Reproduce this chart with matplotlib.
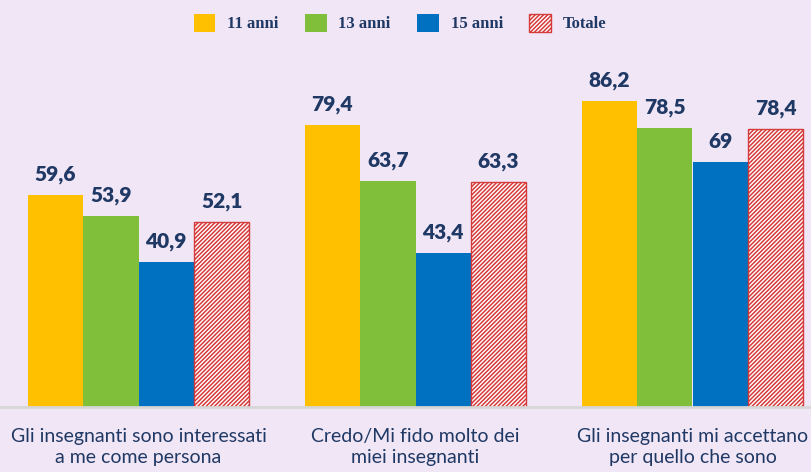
import matplotlib.pyplot as plt
import numpy as np

categories = ["Gli insegnanti sono interessati\na me come persona",
              "Credo/Mi fido molto dei\nmiei insegnanti",
              "Gli insegnanti mi accettano\nper quello che sono"]
series = ["11 anni", "13 anni", "15 anni", "Totale"]
values = [[59.6, 79.4, 86.2],
          [53.9, 63.7, 78.5],
          [40.9, 43.4, 69],
          [52.1, 63.3, 78.4]]
labels = [["59,6", "79,4", "86,2"],
          ["53,9", "63,7", "78,5"],
          ["40,9", "43,4", "69"],
          ["52,1", "63,3", "78,4"]]

colors = ["#FFC000", "#80BF3A", "#0070C0", "white"]
navy = "#1F3864"
bg = "#F0E6F6"

plt.rcParams['hatch.linewidth'] = 1.1

fig = plt.figure(figsize=(8.11, 4.72), dpi=100)
fig.patch.set_facecolor(bg)
W, H = 811, 472
ax = fig.add_axes([0, (H - 407) / H, 831 / W, 355 / H])
ax.set_facecolor(bg)

x = np.arange(len(categories))
w = 0.2
handles = []
for i, s in enumerate(series):
    pos = x + (i - 1.5) * w
    if s == "Totale":
        b = ax.bar(pos, values[i], w, color="white", edgecolor="#D63A3A",
                   hatch="////////", linewidth=1.0, label=s)
    else:
        b = ax.bar(pos, values[i], w, color=colors[i], label=s)
    handles.append(b)
    for p, v, t in zip(pos, values[i], labels[i]):
        ax.annotate(t, (p, v), xytext=(0, 8), textcoords="offset points",
                    ha="center", va="bottom", fontsize=15, fontweight="heavy",
                    color=navy, family="Lato")

ax.set_xlim(-0.5, 2.5)
ax.set_ylim(0, 100)
for sp in ["top", "right", "left"]:
    ax.spines[sp].set_visible(False)
ax.spines["bottom"].set_color("#D6D6D6")
ax.spines["bottom"].set_linewidth(2)
ax.set_yticks([])
ax.set_xticks(x)
ax.set_xticklabels(categories, fontsize=14, color=navy, family="Lato",
                   linespacing=1.3)
ax.tick_params(axis="x", length=0, pad=15)

leg = fig.legend(handles=handles, labels=series, loc="center",
                 bbox_to_anchor=(400 / W, 1 - 23 / H), ncol=4, frameon=False,
                 prop=dict(family="Liberation Serif", weight="bold", size=12),
                 handlelength=1.3, handleheight=1.3, columnspacing=1.6,
                 handletextpad=0.7)
for t in leg.get_texts():
    t.set_color(navy)

fig.savefig("out.png", dpi=100, facecolor=bg)
